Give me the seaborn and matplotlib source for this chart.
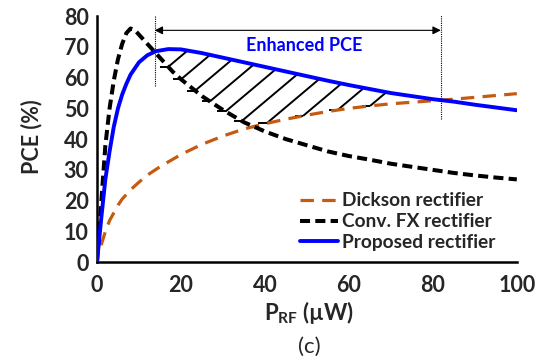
import numpy as np
import pandas as pd
import matplotlib
matplotlib.use("Agg")
import matplotlib.pyplot as plt
import seaborn as sns

# PCE (%) versus input RF power (uW) for three rectifier topologies
dickson_x = [1, 2, 3, 4, 5, 6, 8, 10, 12, 15, 20, 25, 30, 35, 40, 45, 50,
             55, 60, 65, 70, 75, 80, 85, 90, 95, 100]
dickson_y = [5.5, 10, 13.5, 16, 18.5, 20.5, 23.5, 26, 28.3, 31, 35, 38.3, 41,
             43.3, 45, 46.5, 47.8, 49, 50, 50.8, 51.5, 52, 52.5, 53, 53.6,
             54.2, 54.8]

fx_x = [0, 0.5, 1, 2, 3, 4, 5, 6, 7, 8, 9, 10, 12, 14, 16, 18, 20, 25, 30,
        35, 40, 45, 50, 55, 60, 65, 70, 75, 80, 85, 90, 95, 100]
fx_y = [0, 9, 19, 38, 50, 59, 66, 71, 74.5, 76, 75.5, 74, 71, 68, 65, 62,
        59.5, 54, 49.5, 45.5, 42.5, 40, 38, 36, 34.5, 33.3, 32, 31, 30, 29,
        28.2, 27.5, 26.9]

prop_x = [0, 0.5, 1, 2, 3, 4, 5, 6, 7, 8, 10, 12, 14, 17, 20, 25, 30, 35,
          40, 45, 50, 55, 60, 65, 70, 75, 80, 85, 90, 95, 100]
prop_y = [0, 7, 14, 27, 36, 44, 50, 54.5, 58, 61, 65, 67.3, 68.6, 69.3, 69.2,
          68, 66.5, 65, 63.5, 62, 60.5, 59, 57.6, 56.3, 55, 54, 53, 52.2,
          51.2, 50.3, 49.4]

series_names = ["Dickson rectifier", "Conv. FX rectifier", "Proposed rectifier"]
x_ticks = [0, 20, 40, 60, 80, 100]
y_ticks = [0, 10, 20, 30, 40, 50, 60, 70, 80]

sns.set_style("white")
plt.rcParams["font.family"] = ["Lato", "DejaVu Sans"]
plt.rcParams["mathtext.fontset"] = "custom"
plt.rcParams["mathtext.rm"] = "Lato:bold"
plt.rcParams["mathtext.bf"] = "Lato:bold"

ORANGE = "#C55A11"
BLUE = "#0000FF"

fig = plt.figure(figsize=(5.51, 3.6), dpi=100)
ax = fig.add_axes([0.176, 0.272, 0.762, 0.683])

sns.lineplot(x=dickson_x, y=dickson_y, ax=ax, color=ORANGE, lw=2.3,
             linestyle=(0, (4.2, 2.6)), label=series_names[0], zorder=3)
sns.lineplot(x=fx_x, y=fx_y, ax=ax, color="black", lw=2.9,
             linestyle=(0, (2.5, 1.3)), label=series_names[1], zorder=4)
sns.lineplot(x=prop_x, y=prop_y, ax=ax, color=BLUE, lw=2.8,
             linestyle="-", label=series_names[2], zorder=5)

# Region where the proposed rectifier beats both references
xx = np.linspace(0, 100, 4001)
top = np.interp(xx, prop_x, prop_y)
bot = np.maximum(np.interp(xx, fx_x, fx_y), np.interp(xx, dickson_x, dickson_y))
gap = top - bot
after_peak = xx > 10
x_start = xx[after_peak][np.argmax(gap[after_peak] > 0)]
inside = (xx > x_start) & (gap > 0)
x_end = xx[inside][-1]

# diagonal hatch strokes with a short foot at their lower end
slope = 1.15
for c in np.linspace(44, -24, 10):
    f_top = top - (slope * xx + c)
    f_bot = bot - (slope * xx + c)
    m = xx > x_start
    xt = xx[m][np.argmax(f_top[m] <= 0)]
    xb = xx[m][np.argmax(f_bot[m] <= 0)]
    if xb >= xt:
        continue
    yb = slope * xb + c
    yt = slope * xt + c
    ax.plot([xb, xt], [yb, yt], color="black", lw=1.4, zorder=2,
            solid_capstyle="butt")
    ax.plot([xb - 2.0, xb], [yb, yb], color="black", lw=1.4, zorder=2,
            solid_capstyle="butt")

# crossing markers and the span arrow
y_start = np.interp(x_start, prop_x, prop_y)
y_end = np.interp(x_end, prop_x, prop_y)
ax.plot([x_start, x_start], [y_start - 11, 80.5], color="black", lw=0.8,
        linestyle=(0, (1, 1)), zorder=6, clip_on=False)
ax.plot([x_end, x_end], [y_end - 6, 80.5], color="black", lw=0.8,
        linestyle=(0, (1, 1)), zorder=6, clip_on=False)
ax.annotate("", xy=(x_start, 75.4), xytext=(x_end, 75.4),
            arrowprops=dict(arrowstyle="<|-|>", color="black", lw=0.8,
                            mutation_scale=12, shrinkA=0, shrinkB=0))
ax.text((x_start + x_end) / 2 + 1.5, 70.6, "Enhanced PCE", color=BLUE,
        fontsize=13, fontweight="bold", ha="center", va="center")

ax.set_xlim(0, 100)
ax.set_ylim(0, 80)
ax.set_xticks(x_ticks)
ax.set_yticks(y_ticks)
ax.set_xticks(np.arange(0, 101, 4), minor=True)
ax.tick_params(axis="both", which="major", direction="inout", length=10,
               width=1.8, labelsize=15.5, color="black")
ax.tick_params(axis="x", which="minor", direction="in", length=4.5,
               width=1.6, color="black")
ax.tick_params(axis="y", which="major", pad=1)
ax.tick_params(axis="x", which="major", pad=4)
for lab in ax.get_xticklabels() + ax.get_yticklabels():
    lab.set_fontweight("bold")

for side in ["top", "right"]:
    ax.spines[side].set_visible(False)
for side in ["left", "bottom"]:
    ax.spines[side].set_linewidth(1.8)
    ax.spines[side].set_color("black")

ax.set_xlabel(r"$\mathbf{P}_{\mathbf{RF}}$ (µW)", fontsize=16, fontweight="bold")
ax.set_ylabel("PCE (%)", fontsize=15.5, fontweight="bold")
ax.xaxis.set_label_coords(0.505, -0.207)
ax.xaxis.label.set_va("center")
ax.yaxis.set_label_coords(-0.155, 0.51)
ax.yaxis.label.set_va("center")

leg = ax.legend(loc="upper left", bbox_to_anchor=(0.483, 0.283), frameon=False,
                fontsize=13.8, handlelength=2.0, handletextpad=0.2,
                labelspacing=0.2, borderaxespad=0, borderpad=0)
for t in leg.get_texts():
    t.set_fontweight("bold")

fig.text(0.562, 0.036, "(c)", fontsize=16, ha="center", va="center")

fig.savefig("out.png", dpi=100)
